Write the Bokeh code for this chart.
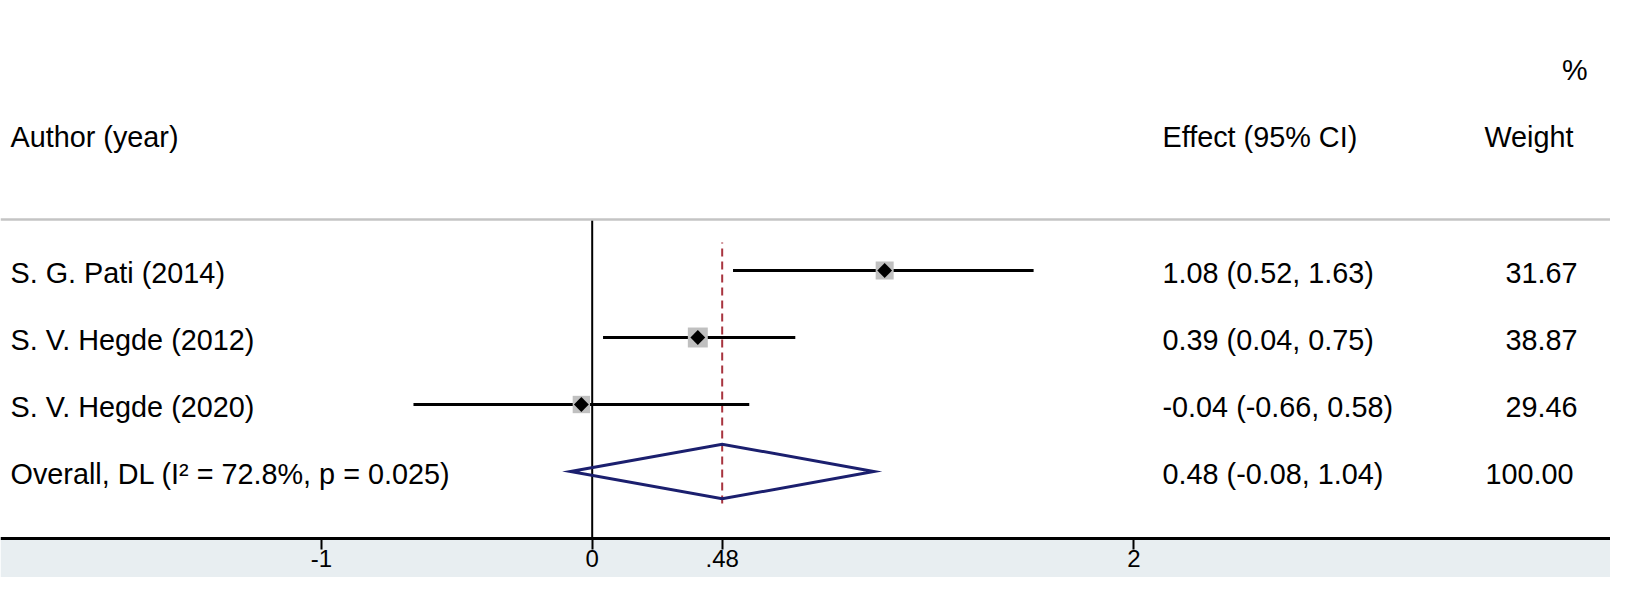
import numpy as np
from bokeh.plotting import figure
from bokeh.models import ColumnDataSource, LinearAxis, FixedTicker, BoxAnnotation, Span
from bokeh.core.properties import value
from bokeh.embed import file_html
from bokeh.resources import INLINE

# ---------------- data ----------------
studies = ["S. G. Pati (2014)", "S. V. Hegde (2012)", "S. V. Hegde (2020)"]
effects = [1.08, 0.39, -0.04]
ci_low = [0.52, 0.04, -0.66]
ci_high = [1.63, 0.75, 0.58]
weights = [31.67, 38.87, 29.46]

overall_label = "Overall, DL (I\u00b2 = 72.8%, p = 0.025)"
overall_effect = 0.48
overall_low = -0.08
overall_high = 1.04
overall_weight = 100.00

tick_values = [-1, 0, 0.48, 2]
tick_labels = ["-1", "0", ".48", "2"]

header_study = "Author (year)"
header_effect = "Effect (95% CI)"
header_weight = "Weight"
header_pct = "%"

# ---------------- layout constants ----------------
W, H = 1610, 577
PX_PER_UNIT = 270.8      # horizontal pixels per effect unit
ZERO_PX = 591.7          # pixel of effect 0
ROW_PX = 67.0            # pixels per row
AXIS_PX = 538.0          # pixel (from top) of the x axis

x_start = -ZERO_PX / PX_PER_UNIT
x_end = (W - ZERO_PX) / PX_PER_UNIT
y_start = -(H - AXIS_PX) / ROW_PX
y_end = AXIS_PX / ROW_PX


def dx(px):
    return x_start + px / PX_PER_UNIT


FONT = value("Liberation Sans")
FSIZE = value("28.8px")
TOFF = 2.5 / ROW_PX      # texts sit slightly below the row lines

n = len(studies)
rows = [n + 1 - i for i in range(n)]          # 4,3,2
overall_row = 1
header_row = n + 3                            # 6
pct_row = n + 4                               # 7
sep_y = rows[0] + 0.761

p = figure(width=W, height=H, output_backend="svg", toolbar_location=None,
           x_range=(x_start, x_end), y_range=(y_start, y_end),
           x_axis_type=None, y_axis_type=None,
           min_border=0, min_border_left=0, min_border_right=0,
           min_border_top=0, min_border_bottom=0)
p.outline_line_color = None
p.background_fill_color = "white"
p.border_fill_color = "white"

# bottom shaded band
p.add_layout(BoxAnnotation(top=0, fill_color="#e8eef1", fill_alpha=1.0,
                           line_color=None, level="underlay"))

# separator line under the header
p.add_layout(Span(location=sep_y, dimension="width", line_color="#c4c4c4",
                  line_width=2.5))

# no-effect line
p.segment(x0=[0], y0=[0], x1=[0], y1=[sep_y], line_color="black", line_width=2)

# overall effect dashed line
p.segment(x0=[overall_effect], y0=[overall_row - 0.478], x1=[overall_effect],
          y1=[rows[0] + 0.418], line_color="#a8343f", line_width=2,
          line_dash="8 5")

src = ColumnDataSource(dict(
    y=rows, est=effects, lo=ci_low, hi=ci_high, w=weights,
    size=[3.2 * np.sqrt(w) for w in weights],
    label=studies,
    eff=[f"{e:.2f} ({l:.2f}, {h:.2f})" for e, l, h in zip(effects, ci_low, ci_high)],
    wtxt=[f"{w:.2f}" for w in weights],
    ty=[r - TOFF for r in rows],
))

# CI lines
p.segment(x0="lo", y0="y", x1="hi", y1="y", source=src, line_color="black",
          line_width=3)
# weight boxes
p.scatter(x="est", y="y", size="size", marker="square", source=src,
          fill_color="#c0c0c0", line_color=None)
# point estimates
p.scatter(x="est", y="y", size=10.5, marker="square", angle=np.pi / 4,
          source=src, fill_color="black", line_color=None)

# overall diamond
dh = 0.408
p.patch(x=[overall_low, overall_effect, overall_high, overall_effect, overall_low],
        y=[overall_row, overall_row + dh, overall_row, overall_row - dh, overall_row],
        fill_color=None, line_color="#1b1f6e", line_width=3, line_join="miter")

TXT = dict(text_font=FONT, text_font_size=FSIZE, text_color="black",
           text_baseline="middle")

# study texts
p.text(x=dx(10), y="ty", text="label", source=src, text_align="left", **TXT)
p.text(x=dx(1162), y="ty", text="eff", source=src, text_align="left", **TXT)
p.text(x=dx(1577), y="ty", text="wtxt", source=src, text_align="right", **TXT)

# overall texts
oy = overall_row - TOFF
p.text(x=[dx(10)], y=[oy], text=[overall_label], text_align="left", **TXT)
p.text(x=[dx(1162)], y=[oy],
       text=[f"{overall_effect:.2f} ({overall_low:.2f}, {overall_high:.2f})"],
       text_align="left", **TXT)
p.text(x=[dx(1573)], y=[oy], text=[f"{overall_weight:.2f}"], text_align="right", **TXT)

# headers
hy = header_row
p.text(x=[dx(10)], y=[hy], text=[header_study], text_align="left", **TXT)
p.text(x=[dx(1162)], y=[hy], text=[header_effect], text_align="left", **TXT)
p.text(x=[dx(1573)], y=[hy], text=[header_weight], text_align="right", **TXT)
p.text(x=[dx(1587)], y=[pct_row], text=[header_pct], text_align="right", **TXT)

# x axis drawn at effect row 0
ax = LinearAxis(fixed_location=0, ticker=FixedTicker(ticks=tick_values),
                major_label_overrides={t: l for t, l in zip(tick_values, tick_labels)})
ax.axis_line_width = 3
ax.axis_line_color = "black"
ax.major_tick_line_width = 2
ax.major_tick_line_color = "black"
ax.major_tick_out = 11
ax.major_tick_in = 0
ax.minor_tick_out = 0
ax.minor_tick_in = 0
ax.major_label_standoff = 0
ax.major_label_text_font = "Liberation Sans"
ax.major_label_text_font_size = "24px"
ax.major_label_text_color = "black"
p.add_layout(ax, "below")

open("out.html", "w").write(file_html(p, INLINE))
